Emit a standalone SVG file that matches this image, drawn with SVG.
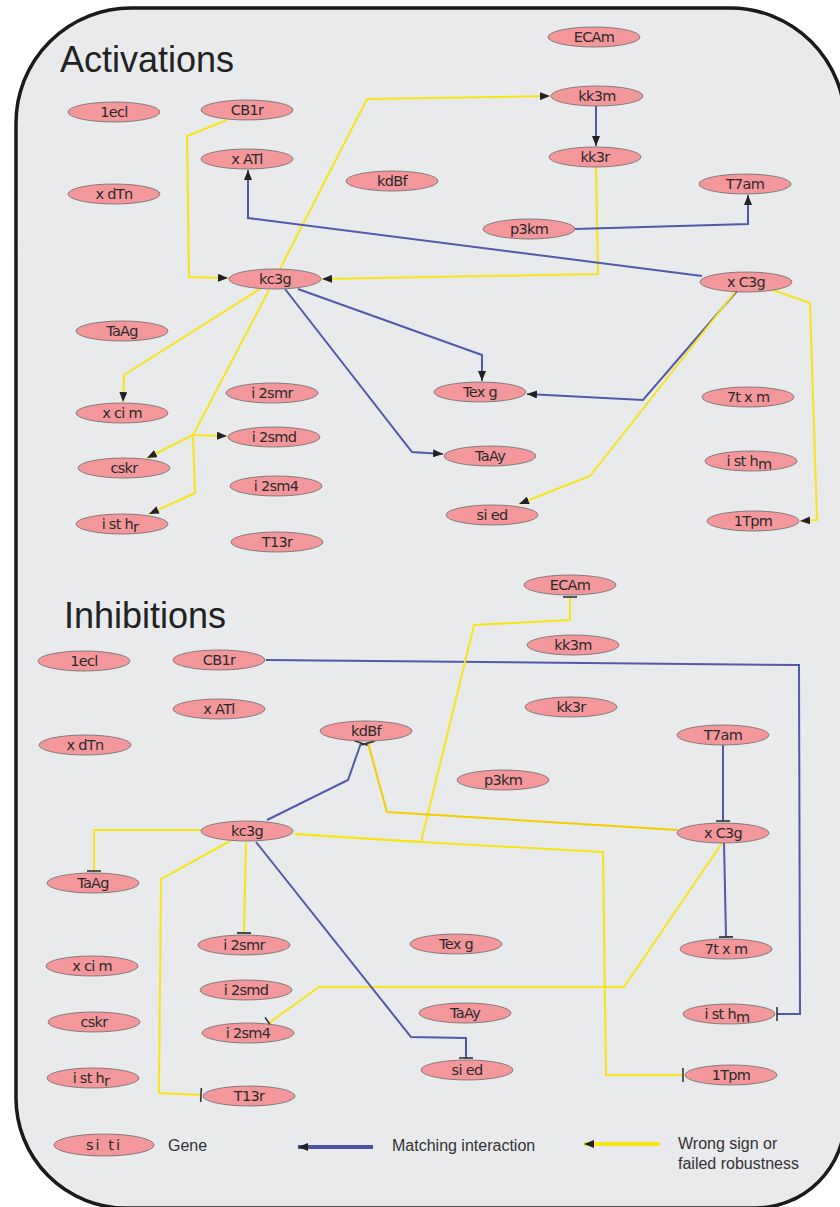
<svg xmlns="http://www.w3.org/2000/svg" width="840" height="1207" viewBox="0 0 840 1207">
<defs>
<style>
.bg{fill:#e8eaec;stroke:#1a1a1a;stroke-width:3.5}
.n ellipse{fill:#f4979a;stroke:#6a6a6a;stroke-width:0.8}
.n text{font-family:"DejaVu Sans",sans-serif;font-size:14.5px;fill:#2a2a2a;text-anchor:middle;letter-spacing:-0.7px}
.title{font-family:"Liberation Sans",Arial,sans-serif;font-size:36px;fill:#222}
.leg{font-family:"Liberation Sans",Arial,sans-serif;font-size:16px;fill:#333}
.b{fill:none;stroke:#5159ab;stroke-width:2}
.y{fill:none;stroke:#f7e51a;stroke-width:2}
.g{fill:none;stroke:#f5cc00;stroke-width:2}
.act{marker-end:url(#arr)}
.inh{marker-end:url(#bar)}
</style>
<marker id="arr" viewBox="0 0 10 8" refX="10" refY="4" markerWidth="10" markerHeight="8" markerUnits="userSpaceOnUse" orient="auto">
<path d="M0,0 L10,4 L0,8 z" fill="#222"/>
</marker>
<marker id="bar" viewBox="0 0 4 14" refX="2" refY="7" markerWidth="4" markerHeight="14" markerUnits="userSpaceOnUse" orient="auto">
<path d="M2,0 L2,14" stroke="#333" stroke-width="1.6"/>
</marker>
</defs>
<path class="bg" d="M131,8 L730,8 A115,115 0 0 1 845,123 L845,1118 A90,90 0 0 1 755,1208 L126,1208 A110,110 0 0 1 16,1098 L16,123 A115,115 0 0 1 131,8 Z"/>
<text class="title" x="60" y="72">Activations</text>
<text class="title" x="64" y="628">Inhibitions</text>

<g id="connectors">
<polyline class="y act" points="227,120 187,136 189,277 228,278"/>
<polyline class="y act" points="280,269 367,99 550,96"/>
<polyline class="b act" points="596,106 596,146"/>
<polyline class="y act" points="596,167 598,274 322,279"/>
<polyline class="b act" points="575,229 748,224 748,195"/>
<polyline class="b act" points="702,276 248,218 248,170"/>
<polyline class="y act" points="773,290 810,303 817,520 800,521"/>
<polyline class="b act" points="737,291 643,400 527,394"/>
<polyline class="y act" points="735,292 590,476 519,504"/>
<polyline class="b act" points="298,289 482,355 482,381"/>
<polyline class="b act" points="285,289 412,452 443,454"/>
<polyline class="y act" points="260,289 124,375 123,402"/>
<polyline class="y act" points="269,290 193,435 227,436"/>
<polyline class="y act" points="193,435 147,458"/>
<polyline class="y act" points="193,435 195,493 149,514"/>

<polyline class="b inh" points="266,660 799,665 800,1014 777,1014"/>
<polyline class="y inh" points="294,834 421,842 603,852 606,1075 683,1075"/>
<polyline class="y inh" points="294,834 421,842 474,625 570,620 570,597"/>
<polyline class="g inh" points="678,830 387,812 368,743"/>
<polyline class="b inh" points="267,820 348,780 361,743"/>
<polyline class="b inh" points="723,745 723,821"/>
<polyline class="b inh" points="724,843 726,937"/>
<polyline class="y inh" points="722,843 624,987 319,987 269,1023"/>
<polyline class="y inh" points="202,830 94,830 94,871"/>
<polyline class="y inh" points="246,842 244,933"/>
<polyline class="y inh" points="230,841 161,879 159,1093 201,1095"/>
<polyline class="b inh" points="256,842 411,1037 466,1038 466,1058"/>
</g>

<g id="act-1ecl" class="n"><ellipse cx="114" cy="112" rx="46" ry="10"/><text x="114" y="117">1ecl</text></g>
<g id="act-CB1r" class="n"><ellipse cx="247" cy="110" rx="46" ry="10"/><text x="247" y="115">CB1r</text></g>
<g id="act-xATl" class="n"><ellipse cx="247" cy="159" rx="46" ry="10"/><text x="247" y="164">x ATl</text></g>
<g id="act-xdTn" class="n"><ellipse cx="114" cy="194" rx="46" ry="10"/><text x="114" y="199">x dTn</text></g>
<g id="act-kdBf" class="n"><ellipse cx="392" cy="181" rx="46" ry="10"/><text x="392" y="186">kdBf</text></g>
<g id="act-ECAm" class="n"><ellipse cx="594" cy="37" rx="46" ry="10"/><text x="594" y="42">ECAm</text></g>
<g id="act-kk3m" class="n"><ellipse cx="597" cy="96" rx="46" ry="10"/><text x="597" y="101">kk3m</text></g>
<g id="act-kk3r" class="n"><ellipse cx="595" cy="157" rx="46" ry="10"/><text x="595" y="162">kk3r</text></g>
<g id="act-T7am" class="n"><ellipse cx="745" cy="184" rx="46" ry="10"/><text x="745" y="189">T7am</text></g>
<g id="act-p3km" class="n"><ellipse cx="529" cy="229" rx="46" ry="10"/><text x="529" y="234">p3km</text></g>
<g id="act-xC3g" class="n"><ellipse cx="746" cy="282" rx="46" ry="10"/><text x="746" y="287">x C3g</text></g>
<g id="act-kc3g" class="n"><ellipse cx="275" cy="279" rx="46" ry="10"/><text x="275" y="284">kc3g</text></g>
<g id="act-TaAg" class="n"><ellipse cx="122" cy="331" rx="46" ry="10"/><text x="122" y="336">TaAg</text></g>
<g id="act-xcim" class="n"><ellipse cx="122" cy="413" rx="46" ry="10"/><text x="122" y="418">x ci m</text></g>
<g id="act-cskr" class="n"><ellipse cx="124" cy="468" rx="46" ry="10"/><text x="124" y="473">cskr</text></g>
<g id="act-isthr" class="n"><ellipse cx="122" cy="524" rx="46" ry="10"/><text x="120" y="529">i st h<tspan dy="3">r</tspan></text></g>
<g id="act-i2smr" class="n"><ellipse cx="272" cy="393" rx="46" ry="10"/><text x="272" y="398">i 2smr</text></g>
<g id="act-i2smd" class="n"><ellipse cx="274" cy="437" rx="46" ry="10"/><text x="274" y="442">i 2smd</text></g>
<g id="act-i2sm4" class="n"><ellipse cx="276" cy="486" rx="46" ry="10"/><text x="276" y="491">i 2sm4</text></g>
<g id="act-T13r" class="n"><ellipse cx="277" cy="542" rx="46" ry="10"/><text x="277" y="547">T13r</text></g>
<g id="act-Texg" class="n"><ellipse cx="480" cy="392" rx="46" ry="10"/><text x="480" y="397">Tex g</text></g>
<g id="act-TaAy" class="n"><ellipse cx="490" cy="456" rx="46" ry="10"/><text x="490" y="461">TaAy</text></g>
<g id="act-sied" class="n"><ellipse cx="492" cy="515" rx="46" ry="10"/><text x="492" y="520">si ed</text></g>
<g id="act-7txm" class="n"><ellipse cx="748" cy="397" rx="46" ry="10"/><text x="748" y="402">7t x m</text></g>
<g id="act-isthm" class="n"><ellipse cx="751" cy="461" rx="46" ry="10"/><text x="749" y="466">i st h<tspan dy="3">m</tspan></text></g>
<g id="act-1Tpm" class="n"><ellipse cx="753" cy="521" rx="46" ry="10"/><text x="753" y="526">1Tpm</text></g>

<g id="inh-1ecl" class="n"><ellipse cx="84" cy="661" rx="46" ry="10"/><text x="84" y="666">1ecl</text></g>
<g id="inh-CB1r" class="n"><ellipse cx="219" cy="660" rx="46" ry="10"/><text x="219" y="665">CB1r</text></g>
<g id="inh-xATl" class="n"><ellipse cx="219" cy="709" rx="46" ry="10"/><text x="219" y="714">x ATl</text></g>
<g id="inh-xdTn" class="n"><ellipse cx="85" cy="745" rx="46" ry="10"/><text x="85" y="750">x dTn</text></g>
<g id="inh-kdBf" class="n"><ellipse cx="366" cy="731" rx="46" ry="10"/><text x="366" y="736">kdBf</text></g>
<g id="inh-ECAm" class="n"><ellipse cx="570" cy="585" rx="46" ry="10"/><text x="570" y="590">ECAm</text></g>
<g id="inh-kk3m" class="n"><ellipse cx="573" cy="645" rx="46" ry="10"/><text x="573" y="650">kk3m</text></g>
<g id="inh-kk3r" class="n"><ellipse cx="571" cy="707" rx="46" ry="10"/><text x="571" y="712">kk3r</text></g>
<g id="inh-T7am" class="n"><ellipse cx="723" cy="735" rx="46" ry="10"/><text x="723" y="740">T7am</text></g>
<g id="inh-p3km" class="n"><ellipse cx="503" cy="780" rx="46" ry="10"/><text x="503" y="785">p3km</text></g>
<g id="inh-xC3g" class="n"><ellipse cx="723" cy="833" rx="46" ry="10"/><text x="723" y="838">x C3g</text></g>
<g id="inh-kc3g" class="n"><ellipse cx="247" cy="831" rx="46" ry="10"/><text x="247" y="836">kc3g</text></g>
<g id="inh-TaAg" class="n"><ellipse cx="93" cy="883" rx="46" ry="10"/><text x="93" y="888">TaAg</text></g>
<g id="inh-xcim" class="n"><ellipse cx="92" cy="966" rx="46" ry="10"/><text x="92" y="971">x ci m</text></g>
<g id="inh-cskr" class="n"><ellipse cx="94" cy="1022" rx="46" ry="10"/><text x="94" y="1027">cskr</text></g>
<g id="inh-isthr" class="n"><ellipse cx="93" cy="1078" rx="46" ry="10"/><text x="91" y="1083">i st h<tspan dy="3">r</tspan></text></g>
<g id="inh-i2smr" class="n"><ellipse cx="244" cy="945" rx="46" ry="10"/><text x="244" y="950">i 2smr</text></g>
<g id="inh-i2smd" class="n"><ellipse cx="246" cy="990" rx="46" ry="10"/><text x="246" y="995">i 2smd</text></g>
<g id="inh-i2sm4" class="n"><ellipse cx="248" cy="1033" rx="46" ry="10"/><text x="248" y="1038">i 2sm4</text></g>
<g id="inh-T13r" class="n"><ellipse cx="249" cy="1096" rx="46" ry="10"/><text x="249" y="1101">T13r</text></g>
<g id="inh-Texg" class="n"><ellipse cx="456" cy="944" rx="46" ry="10"/><text x="456" y="949">Tex g</text></g>
<g id="inh-TaAy" class="n"><ellipse cx="465" cy="1013" rx="46" ry="10"/><text x="465" y="1018">TaAy</text></g>
<g id="inh-sied" class="n"><ellipse cx="467" cy="1070" rx="46" ry="10"/><text x="467" y="1075">si ed</text></g>
<g id="inh-7txm" class="n"><ellipse cx="726" cy="949" rx="46" ry="10"/><text x="726" y="954">7t x m</text></g>
<g id="inh-isthm" class="n"><ellipse cx="729" cy="1014" rx="46" ry="10"/><text x="727" y="1019">i st h<tspan dy="3">m</tspan></text></g>
<g id="inh-1Tpm" class="n"><ellipse cx="731" cy="1075" rx="46" ry="10"/><text x="731" y="1080">1Tpm</text></g>

<g id="legend">
<g class="n"><ellipse cx="104" cy="1145" rx="50" ry="11"/><text x="104" y="1150" style="letter-spacing:2px">si ti</text></g>
<text class="leg" x="168" y="1151">Gene</text>
<line x1="373" y1="1147" x2="298" y2="1147" stroke="#4a53a8" stroke-width="4" marker-end="url(#arr)"/>
<text class="leg" x="392" y="1151">Matching interaction</text>
<line x1="660" y1="1144" x2="584" y2="1144" stroke="#f7e51a" stroke-width="4" marker-end="url(#arr)"/>
<text class="leg" x="678" y="1149">Wrong sign or</text>
<text class="leg" x="678" y="1169">failed robustness</text>
</g>
</svg>
